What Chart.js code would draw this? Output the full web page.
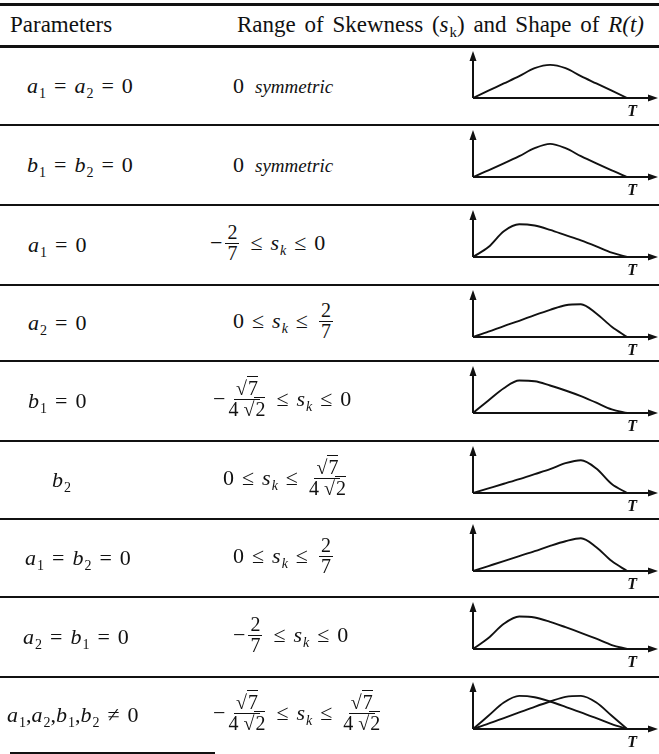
<!DOCTYPE html>
<html>
<head>
<meta charset="utf-8">
<script src="https://cdn.jsdelivr.net/npm/chart.js@4.4.0/dist/chart.umd.min.js"></script>
<style>
body { margin: 0; background: #fff; width: 659px; height: 754px; position: relative; overflow: hidden;
       font-family: "Liberation Serif", "DejaVu Serif", serif; color: #111; }
.rule { position: absolute; left: 0; width: 659px; background: #111; }
.row { position: absolute; left: 0; width: 659px; }
.cell { position: absolute; top: 0; height: 100%; display: flex; align-items: center; white-space: nowrap; font-size: 22px; }
.head { position: absolute; top: 12px; font-size: 23px; white-space: nowrap; }
sub { font-size: 14px; vertical-align: -5px; line-height: 0; margin-left: 1px; }
.sym { font-size: 19px; margin-left: 11px; }
.eq { margin: 0 8px; }
.fr { display: inline-flex; flex-direction: column; align-items: center; vertical-align: middle;
      font-size: 20px; line-height: 19px; margin: 0 3px; position: relative; top: -2px; }
.fr .n { border-bottom: 1.4px solid #111; padding: 0 2px 1px; }
.sq { white-space: nowrap; }
.ov { border-top: 1.3px solid #111; padding-left: 1px; }
.ch { position: absolute; left: 466px; width: 193px; height: 76px; }
</style>
</head>
<body>
<div class="head" style="left:10px">Parameters</div>
<div class="head" style="left:237px; word-spacing:3px">Range of Skewness (<i>s</i><sub style="font-size:15px">k</sub>) and Shape of <i>R(t)</i></div>
<div id="table"></div>
<script>
// shape curves, R(t) sampled at t/T = 0, 0.1, ... 1 (peak = 1)
var xs = [0, 0.1, 0.2, 0.3, 0.4, 0.5, 0.6, 0.7, 0.8, 0.9, 1.0];
var symA = [0, 0.22, 0.44, 0.66, 0.9, 1.0, 0.9, 0.66, 0.44, 0.22, 0];
var symB = [0, 0.2, 0.41, 0.63, 0.87, 1.0, 0.87, 0.63, 0.41, 0.2, 0];
var leftA = [0, 0.3, 0.78, 0.99, 0.95, 0.82, 0.66, 0.5, 0.32, 0.13, 0];
var rightA = [0, 0.16, 0.33, 0.49, 0.66, 0.82, 0.96, 0.99, 0.71, 0.31, 0];
var leftB = [0, 0.38, 0.75, 0.98, 0.96, 0.83, 0.68, 0.51, 0.31, 0.11, 0];
var rightB = [0, 0.14, 0.28, 0.42, 0.57, 0.72, 0.9, 0.99, 0.74, 0.27, 0];
var rightAB = [0, 0.15, 0.3, 0.45, 0.6, 0.76, 0.9, 0.99, 0.72, 0.3, 0];
var leftAB = [0, 0.33, 0.76, 0.98, 0.95, 0.82, 0.66, 0.49, 0.31, 0.12, 0];
var allLeft = [0, 0.4, 0.8, 1.0, 0.96, 0.83, 0.67, 0.5, 0.33, 0.15, 0];
var allRight = [0, 0.16, 0.33, 0.5, 0.67, 0.83, 0.97, 1.0, 0.8, 0.4, 0];

var rowShapes = [[symA], [symB], [leftA], [rightA], [leftB], [rightB], [rightAB], [leftAB], [allLeft, allRight]];

// table text
var eq = '<span class="eq">=</span>';
var sk = '<i>s</i><sub><i>k</i></sub>';
var le = '<span class="eq">≤</span>';
var f27 = '<span class="fr"><span class="n">2</span><span>7</span></span>';
var fr7 = '<span class="fr"><span class="n"><span class="sq">√<span class="ov">7</span></span></span>' +
          '<span>4 <span class="sq">√<span class="ov">2</span></span></span></span>';
function v(s, n) { return '<i>' + s + '</i><sub>' + n + '</sub>'; }

var params = [
    v('a', 1) + eq + v('a', 2) + eq + '0',
    v('b', 1) + eq + v('b', 2) + eq + '0',
    v('a', 1) + eq + '0',
    v('a', 2) + eq + '0',
    v('b', 1) + eq + '0',
    v('b', 2),
    v('a', 1) + eq + v('b', 2) + eq + '0',
    v('a', 2) + eq + v('b', 1) + eq + '0',
    v('a', 1) + ',' + v('a', 2) + ',' + v('b', 1) + ',' + v('b', 2) + '<span class="eq">≠</span>0'
];
var ranges = [
    '0<i class="sym">symmetric</i>',
    '0<i class="sym">symmetric</i>',
    '−' + f27 + le + sk + le + '0',
    '0' + le + sk + le + f27,
    '−' + fr7 + le + sk + le + '0',
    '0' + le + sk + le + fr7,
    '0' + le + sk + le + f27,
    '−' + f27 + le + sk + le + '0',
    '−' + fr7 + le + sk + le + fr7
];

// layout
var ruleYs = [46, 125, 205, 285, 361, 441, 519, 597, 677, 753];
var paramX = [27, 27, 28, 28, 28, 52, 25, 23, 7];
var rangeX = [233, 233, 210, 233, 213, 223, 233, 233, 213];

var table = document.getElementById('table');
function addRule(y, h, x0, w) {
    var d = document.createElement('div');
    d.className = 'rule';
    d.style.top = (y - h / 2) + 'px';
    d.style.height = h + 'px';
    if (x0 != null) { d.style.left = x0 + 'px'; d.style.width = w + 'px'; }
    table.appendChild(d);
}
addRule(4, 3);
addRule(46, 3);
for (var i = 1; i < ruleYs.length - 1; i++) addRule(ruleYs[i], 2);
addRule(753, 2, 10, 205);

var axesPlugin = {
    id: 'axesArrows',
    beforeDatasetsDraw: function (chart) {
        var c = chart.ctx, sx = chart.scales.x, sy = chart.scales.y;
        var x0 = sx.getPixelForValue(0), y0 = sy.getPixelForValue(0);
        var x1 = sx.getPixelForValue(sx.max), y1 = sy.getPixelForValue(sy.max);
        c.save();
        c.strokeStyle = '#111';
        c.fillStyle = '#111';
        c.lineWidth = 2;
        c.beginPath();
        c.moveTo(x0, y0); c.lineTo(x1 - 8, y0);
        c.moveTo(x0, y0); c.lineTo(x0, y1 + 8);
        c.stroke();
        c.beginPath();
        c.moveTo(x1, y0); c.lineTo(x1 - 10, y0 - 3.5); c.lineTo(x1 - 10, y0 + 3.5); c.closePath();
        c.moveTo(x0, y1); c.lineTo(x0 - 3.5, y1 + 10); c.lineTo(x0 + 3.5, y1 + 10); c.closePath();
        c.fill();
        c.font = 'italic bold 16px "Liberation Serif"';
        c.textAlign = 'center';
        c.textBaseline = 'middle';
        c.fillText('T', sx.getPixelForValue(1) + 5, y0 + 14);
        c.restore();
    }
};

for (var r = 0; r < 9; r++) {
    var row = document.createElement('div');
    row.className = 'row';
    row.style.top = ruleYs[r] + 'px';
    row.style.height = (ruleYs[r + 1] - ruleYs[r]) + 'px';
    row.innerHTML = '<div class="cell" style="left:' + paramX[r] + 'px"><span>' + params[r] + '</span></div>' +
                    '<div class="cell" style="left:' + rangeX[r] + 'px"><span>' + ranges[r] + '</span></div>';
    table.appendChild(row);

    var box = document.createElement('div');
    box.className = 'ch';
    box.style.top = (ruleYs[r] + 2) + 'px';
    var cv = document.createElement('canvas');
    box.appendChild(cv);
    table.appendChild(box);

    var sets = rowShapes[r].map(function (ys) {
        return {
            data: xs.map(function (x, k) { return {x: x, y: ys[k]}; }),
            borderColor: '#111',
            borderWidth: 1.9,
            pointRadius: 0,
            fill: false,
            cubicInterpolationMode: 'monotone'
        };
    });
    new Chart(cv, {
        type: 'line',
        data: {datasets: sets},
        options: {
            responsive: true,
            maintainAspectRatio: false,
            animation: false,
            layout: {padding: {left: 7, right: 1, top: 3, bottom: 26}},
            plugins: {legend: {display: false}, tooltip: {enabled: false}},
            scales: {
                x: {type: 'linear', min: 0, max: 1.2, display: false},
                y: {min: 0, max: 1.42, display: false}
            }
        },
        plugins: [axesPlugin]
    });
}
</script>
</body>
</html>
